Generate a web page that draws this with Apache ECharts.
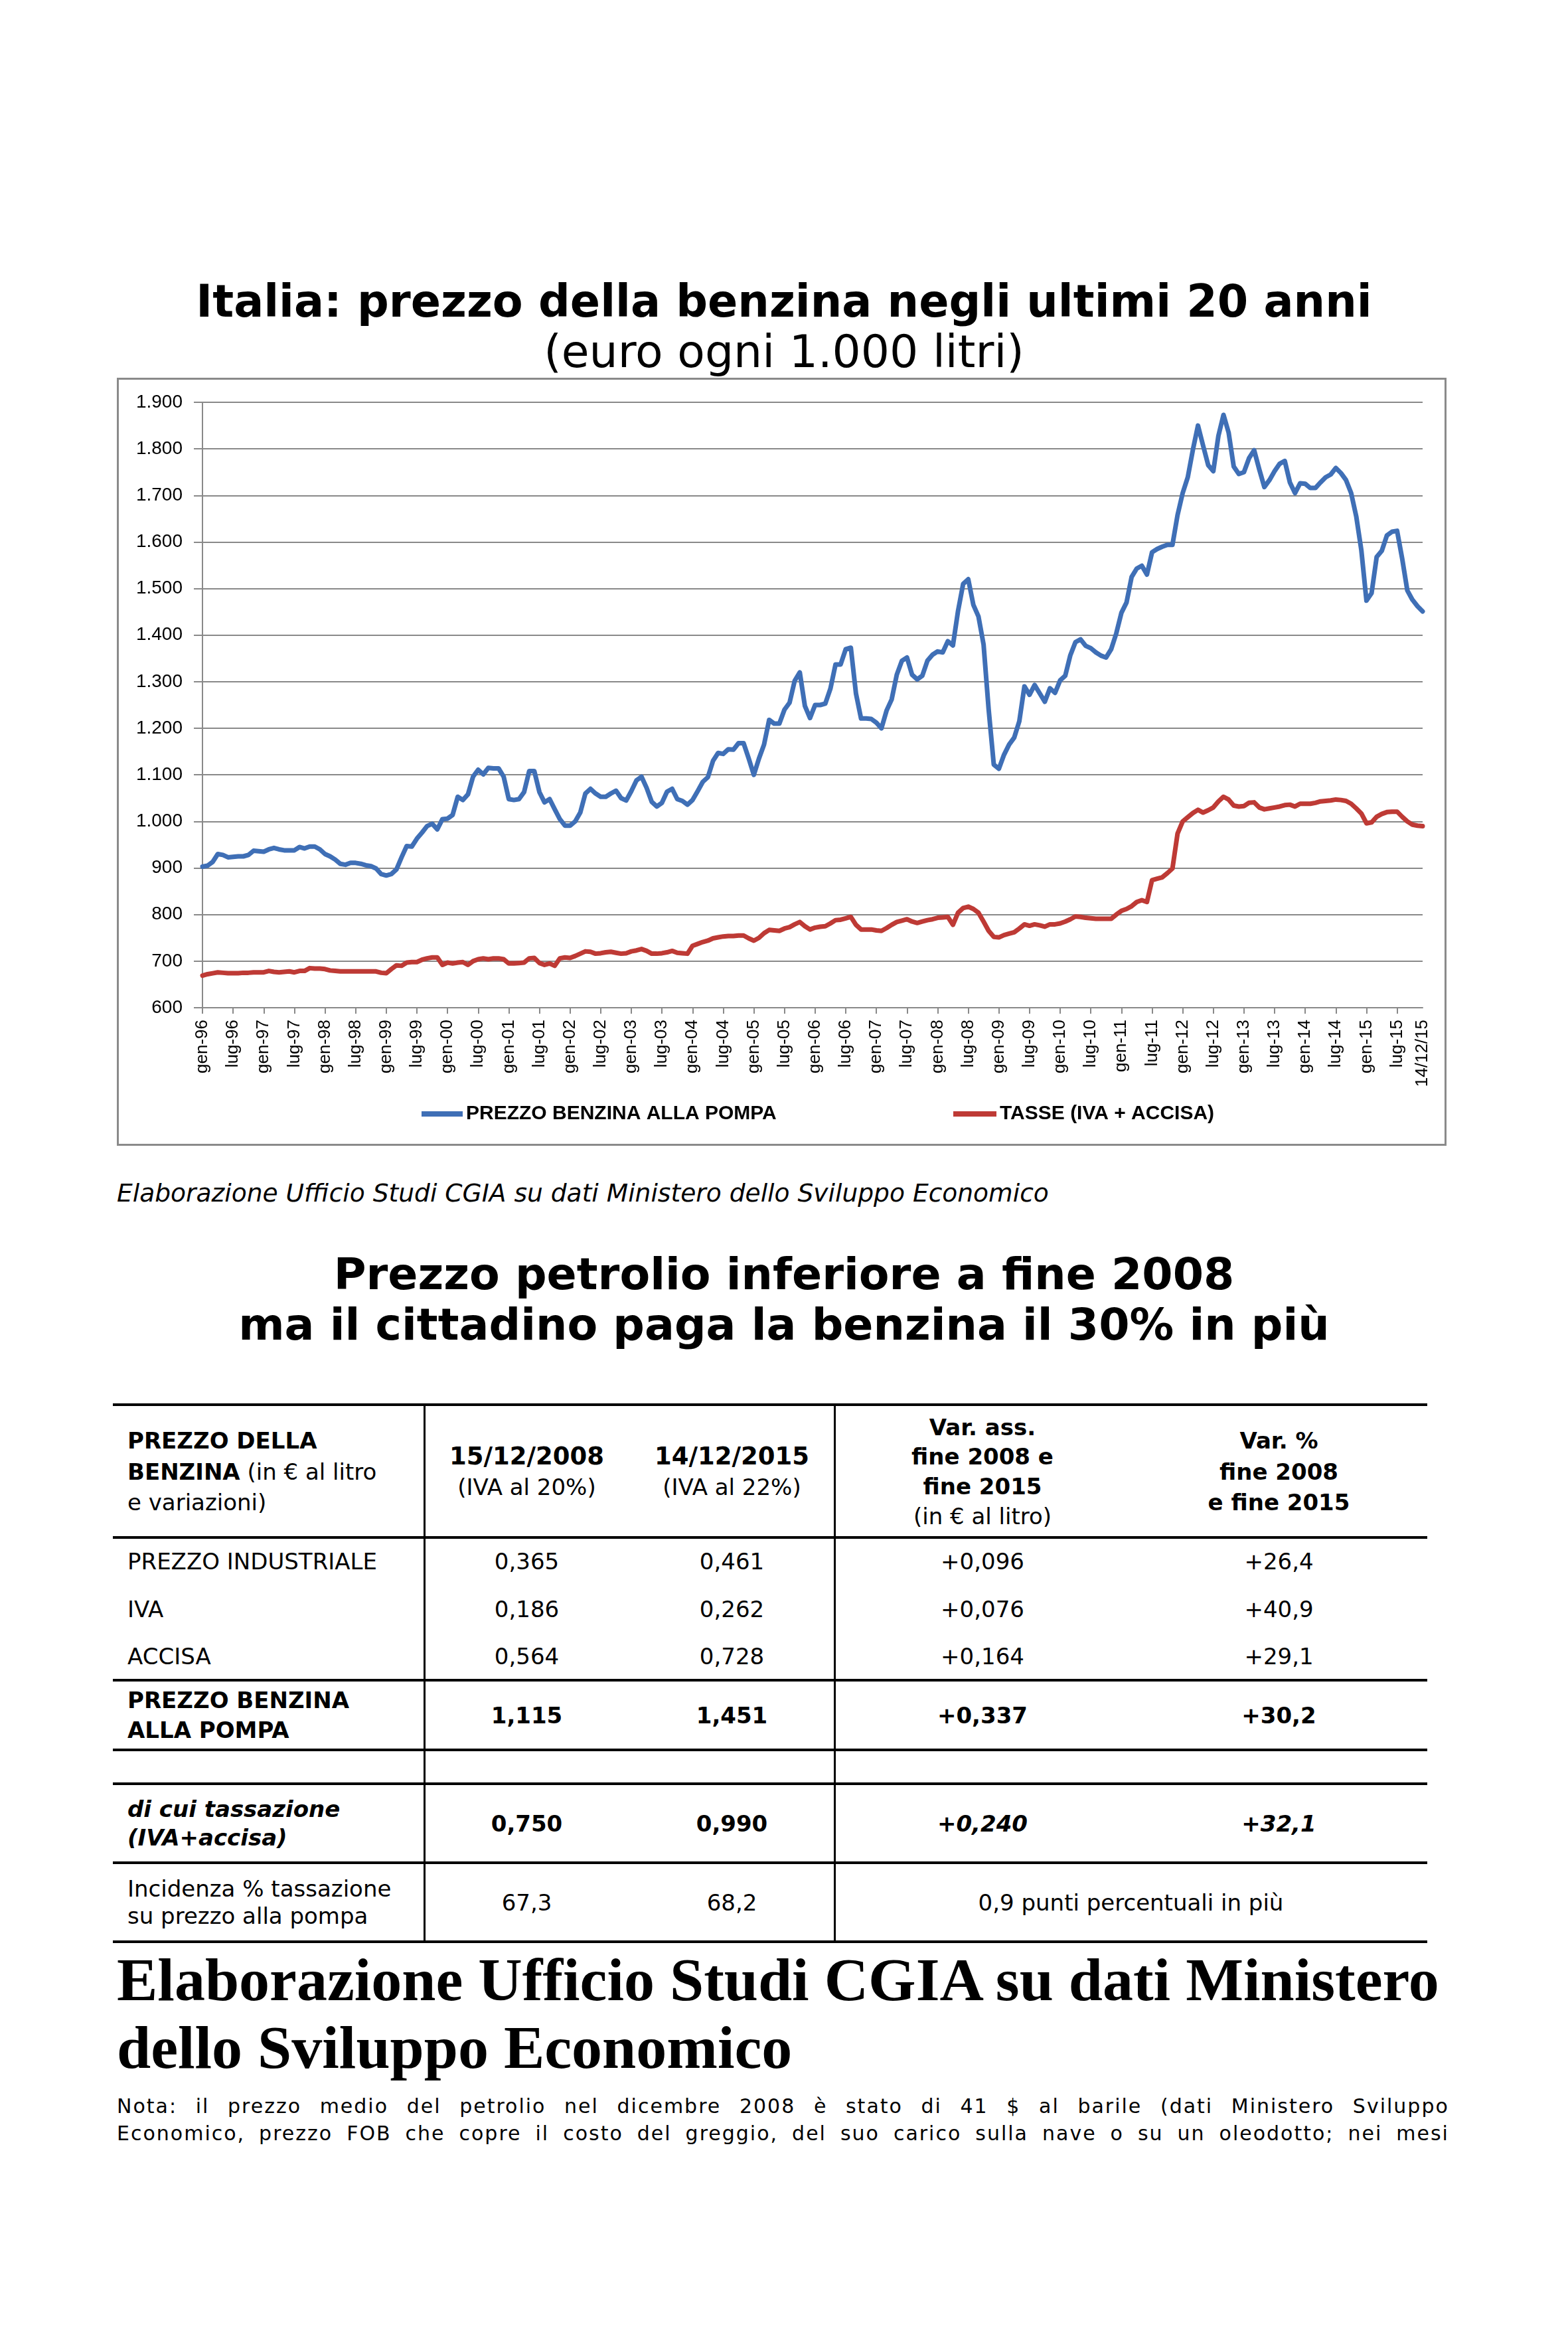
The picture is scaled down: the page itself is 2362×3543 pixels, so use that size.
<!DOCTYPE html>
<html>
<head>
<meta charset="utf-8">
<script src="https://cdn.jsdelivr.net/npm/echarts@6/dist/echarts.min.js"></script>
<style>
    html, body { margin: 0; padding: 0; background: #fff; }
    body {
        width: 2362px; height: 3543px; position: relative; overflow: hidden;
        font-family: 'DejaVu Sans', Verdana, sans-serif; color: #000;
    }
    .abs { position: absolute; }
    #titolo { left: 0; width: 2362px; top: 414px; text-align: center; font-weight: bold; font-size: 66.8px; line-height: 80px; }
    #sottotitolo { left: 0; width: 2362px; top: 490px; text-align: center; font-size: 68px; line-height: 80px; }
    #cornice { left: 176px; top: 569px; width: 2003px; height: 1157px; border: 3px solid #8a8a8a; box-sizing: border-box; }
    #grafico { left: 177px; top: 570px; width: 2001px; height: 1155px; }
    #fonte { left: 176px; top: 1775px; font-style: italic; font-size: 37.6px; line-height: 44px; white-space: nowrap; }
    #titolo2 { left: 0; width: 2362px; top: 1881px; text-align: center; font-weight: bold; font-size: 66.6px; line-height: 76px; }

    /* tabella */
    .hl { position: absolute; left: 170px; width: 1980px; height: 4px; background: #000; }
    .vl { position: absolute; top: 2116px; height: 809px; width: 3px; background: #000; }
    .cell { position: absolute; display: flex; flex-direction: column; justify-content: center; font-size: 34px; line-height: 44px; white-space: nowrap; }
    .c1 { left: 192px; width: 440px; text-align: left; }
    .c2 { left: 639px; width: 309px; text-align: center; }
    .c3 { left: 948px; width: 309px; text-align: center; }
    .c4 { left: 1257px; width: 446px; text-align: center; }
    .c5 { left: 1703px; width: 447px; text-align: center; }
    .c45 { left: 1257px; width: 893px; text-align: center; }

    #grande { left: 176px; top: 2931px; font-family: 'Liberation Serif', 'Times New Roman', serif; font-weight: bold; font-size: 92px; line-height: 102px; white-space: nowrap; }
    .nota { position: absolute; left: 176px; width: 2007px; display: flex; justify-content: space-between; font-size: 30px; letter-spacing: 2px; line-height: 41px; white-space: nowrap; }
</style>
</head>
<body>

<div id="titolo" class="abs">Italia: prezzo della benzina negli ultimi 20 anni</div>
<div id="sottotitolo" class="abs">(euro ogni 1.000 litri)</div>
<div id="cornice" class="abs"></div>
<div id="grafico" class="abs"></div>

<div id="fonte" class="abs">Elaborazione Ufficio Studi CGIA su dati Ministero dello Sviluppo Economico</div>
<div id="titolo2" class="abs">Prezzo petrolio inferiore a fine 2008<br>ma il cittadino paga la benzina il 30% in più</div>

<!-- linee della tabella -->
<div class="hl" style="top:2114px"></div>
<div class="hl" style="top:2314px"></div>
<div class="hl" style="top:2529px"></div>
<div class="hl" style="top:2634px"></div>
<div class="hl" style="top:2685px"></div>
<div class="hl" style="top:2804px"></div>
<div class="hl" style="top:2923px"></div>
<div class="vl" style="left:638px"></div>
<div class="vl" style="left:1256px"></div>

<!-- intestazione -->
<div class="cell c1" style="top:2118px;height:198px;line-height:46.5px"><div><b>PREZZO DELLA</b><br><b>BENZINA</b> (in € al litro<br>e variazioni)</div></div>
<div class="cell c2" style="top:2118px;height:198px;line-height:46px"><div><b style="font-size:37px">15/12/2008</b><br>(IVA al 20%)</div></div>
<div class="cell c3" style="top:2118px;height:198px;line-height:46px"><div><b style="font-size:37px">14/12/2015</b><br>(IVA al 22%)</div></div>
<div class="cell c4" style="top:2118px;height:198px;line-height:44.7px"><div><b>Var. ass.</b><br><b>fine 2008 e</b><br><b>fine 2015</b><br>(in € al litro)</div></div>
<div class="cell c5" style="top:2118px;height:198px;line-height:46.5px"><div><b>Var. %</b><br><b>fine 2008</b><br><b>e fine 2015</b></div></div>

<!-- righe -->
<div class="cell c1" style="top:2316px;height:72px">PREZZO INDUSTRIALE</div>
<div class="cell c2" style="top:2316px;height:72px">0,365</div>
<div class="cell c3" style="top:2316px;height:72px">0,461</div>
<div class="cell c4" style="top:2316px;height:72px">+0,096</div>
<div class="cell c5" style="top:2316px;height:72px">+26,4</div>

<div class="cell c1" style="top:2388px;height:71px">IVA</div>
<div class="cell c2" style="top:2388px;height:71px">0,186</div>
<div class="cell c3" style="top:2388px;height:71px">0,262</div>
<div class="cell c4" style="top:2388px;height:71px">+0,076</div>
<div class="cell c5" style="top:2388px;height:71px">+40,9</div>

<div class="cell c1" style="top:2459px;height:72px">ACCISA</div>
<div class="cell c2" style="top:2459px;height:72px">0,564</div>
<div class="cell c3" style="top:2459px;height:72px">0,728</div>
<div class="cell c4" style="top:2459px;height:72px">+0,164</div>
<div class="cell c5" style="top:2459px;height:72px">+29,1</div>

<div class="cell c1" style="top:2531px;height:105px;font-weight:bold;line-height:45px"><div>PREZZO BENZINA<br>ALLA POMPA</div></div>
<div class="cell c2" style="top:2531px;height:105px;font-weight:bold">1,115</div>
<div class="cell c3" style="top:2531px;height:105px;font-weight:bold">1,451</div>
<div class="cell c4" style="top:2531px;height:105px;font-weight:bold">+0,337</div>
<div class="cell c5" style="top:2531px;height:105px;font-weight:bold">+30,2</div>

<div class="cell c1" style="top:2687px;height:119px;font-weight:bold;font-style:italic;line-height:43px"><div>di cui tassazione<br>(IVA+accisa)</div></div>
<div class="cell c2" style="top:2687px;height:119px;font-weight:bold">0,750</div>
<div class="cell c3" style="top:2687px;height:119px;font-weight:bold">0,990</div>
<div class="cell c4" style="top:2687px;height:119px;font-weight:bold;font-style:italic">+0,240</div>
<div class="cell c5" style="top:2687px;height:119px;font-weight:bold;font-style:italic">+32,1</div>

<div class="cell c1" style="top:2806px;height:119px;line-height:41px"><div>Incidenza % tassazione<br>su prezzo alla pompa</div></div>
<div class="cell c2" style="top:2806px;height:119px">67,3</div>
<div class="cell c3" style="top:2806px;height:119px">68,2</div>
<div class="cell c45" style="top:2806px;height:119px">0,9 punti percentuali in più</div>

<div id="grande" class="abs">Elaborazione Ufficio Studi CGIA su dati Ministero<br>dello Sviluppo Economico</div>

<div class="nota" style="top:3152px" data-testo="Nota: il prezzo medio del petrolio nel dicembre 2008 è stato di 41 $ al barile (dati Ministero Sviluppo"></div>
<div class="nota" style="top:3193px" data-testo="Economico, prezzo FOB che copre il costo del greggio, del suo carico sulla nave o su un oleodotto; nei mesi"></div>

<script>
// Etichette dell'asse: mesi da gen-96 a nov-15, poi l'ultima rilevazione
const MESI = ['gen', 'feb', 'mar', 'apr', 'mag', 'giu', 'lug', 'ago', 'set', 'ott', 'nov', 'dic'];
const ANNI = ['96', '97', '98', '99', '00', '01', '02', '03', '04', '05',
              '06', '07', '08', '09', '10', '11', '12', '13', '14', '15'];
const ULTIMA_DATA = '14/12/15';

// Prezzo benzina alla pompa (euro ogni 1.000 litri), un valore al mese
const prezzoPompa = [
    903, 905, 913, 930, 928, 923, 924, 925, 925, 928,
    937, 936, 935, 940, 943, 940, 938, 938, 938, 945,
    942, 946, 946, 940, 930, 925, 918, 909, 907, 911,
    911, 909, 906, 904, 899, 887, 884, 887, 897, 923,
    947, 946, 963, 976, 990, 995, 983, 1005, 1006, 1014,
    1053, 1046, 1058, 1096, 1111, 1101, 1115, 1114, 1114, 1096,
    1048, 1046, 1048, 1063, 1108, 1108, 1063, 1041, 1048, 1026,
    1005, 991, 991, 1000, 1019, 1060, 1070, 1060, 1053, 1053,
    1060, 1066, 1050, 1045, 1065, 1088, 1096, 1072, 1042, 1032,
    1040, 1064, 1070, 1048, 1044, 1036, 1046, 1065, 1085, 1095,
    1130, 1147, 1145, 1155, 1154, 1168, 1168, 1135, 1100, 1135,
    1165, 1218, 1210, 1210, 1240, 1255, 1302, 1320, 1248, 1222,
    1250, 1250, 1253, 1285, 1337, 1337, 1370, 1373, 1275, 1221,
    1221, 1220, 1212, 1200, 1238, 1262, 1315, 1345, 1352, 1315,
    1305, 1313, 1345, 1358, 1365, 1363, 1387, 1378, 1452, 1510,
    1520, 1465, 1440, 1380, 1240, 1122, 1113, 1143, 1165, 1180,
    1215, 1290, 1272, 1293, 1275, 1257, 1286, 1276, 1303, 1313,
    1357, 1385, 1391, 1377, 1372, 1363, 1356, 1352, 1370, 1404,
    1448, 1470, 1525, 1543, 1549, 1530, 1578, 1585, 1590, 1594,
    1594, 1658, 1705, 1739, 1798, 1850, 1807, 1765, 1752, 1828,
    1873, 1835, 1762, 1746, 1750, 1780, 1797, 1756, 1718, 1733,
    1752, 1768, 1774, 1728, 1705, 1726, 1725, 1716, 1716, 1728,
    1739, 1745, 1759, 1748, 1733, 1705, 1655, 1582, 1474, 1490,
    1568, 1581, 1614, 1622, 1624, 1564, 1496, 1476, 1462, 1451
];

// Tasse (IVA + accisa)
const tasse = [
    669, 672, 674, 676, 675, 674, 674, 674, 675, 675,
    676, 676, 676, 679, 677, 676, 677, 678, 676, 679,
    679, 685, 684, 684, 683, 680, 679, 678, 678, 678,
    678, 678, 678, 678, 678, 675, 674, 683, 691, 690,
    697, 698, 698, 703, 706, 708, 708, 692, 697, 695,
    697, 698, 692, 700, 704, 706, 704, 706, 706, 704,
    695, 695, 696, 697, 706, 707, 696, 692, 695, 690,
    706, 708, 707, 711, 716, 721, 720, 716, 717, 719,
    720, 718, 716, 717, 721, 723, 726, 722, 716, 716,
    717, 719, 722, 718, 717, 716, 733, 737, 741, 744,
    749, 751, 753, 754, 754, 755, 755, 749, 744, 750,
    760, 767, 766, 765, 770, 773, 779, 784, 775, 768,
    772, 774, 775, 781, 788, 789, 792, 795, 778, 768,
    768, 768, 766, 765, 771, 778, 784, 787, 790, 785,
    782, 785, 788, 790, 793, 794, 795, 778, 804, 814,
    817, 812, 804, 785, 765, 752, 751, 756, 759, 762,
    770, 779, 776, 779, 777, 774, 779, 779, 781, 785,
    790, 796, 795, 793, 792, 791, 791, 791, 791, 800,
    808, 812, 818, 827, 831, 827, 874, 877, 880, 889,
    899, 974, 1000, 1009, 1018, 1025, 1019, 1024, 1030, 1043,
    1053, 1047, 1034, 1032, 1033, 1040, 1041, 1030, 1026, 1028,
    1030, 1032, 1035, 1036, 1032, 1038, 1038, 1038, 1040, 1043,
    1044, 1045, 1047, 1046, 1044, 1038, 1028, 1017, 996, 998,
    1010, 1016, 1020, 1021, 1021, 1010, 1000, 993, 991, 990
];

const NOME_PREZZO = 'PREZZO BENZINA ALLA POMPA';
const NOME_TASSE = 'TASSE (IVA + ACCISA)';

const categorie = [];
ANNI.forEach(anno => {
    MESI.forEach(mese => categorie.push(mese + '-' + anno));
});
categorie.length = prezzoPompa.length - 1;
categorie.push(ULTIMA_DATA);

// separatore delle migliaia all'italiana
function formattaMigliaia(v) {
    if (v < 1000) return String(v);
    return Math.floor(v / 1000) + '.' + String(v % 1000).padStart(3, '0');
}

const GRIGIO = '#898989';
const chart = echarts.init(document.getElementById('grafico'));

chart.setOption({
    animation: false,
    textStyle: { fontFamily: "'Liberation Sans', Arial, sans-serif" },
    grid: { left: 128, top: 36, right: 35, bottom: 207 },
    legend: [
        {
            data: [NOME_PREZZO], left: 458, top: 1093, padding: 0,
            icon: 'rect', itemWidth: 62, itemHeight: 8, itemGap: 0,
            textStyle: { fontSize: 30, fontWeight: 'bold', color: '#000' }
        },
        {
            data: [NOME_TASSE], left: 1259, top: 1093, padding: 0,
            icon: 'rect', itemWidth: 65, itemHeight: 8, itemGap: 0,
            textStyle: { fontSize: 30, fontWeight: 'bold', color: '#000' }
        }
    ],
    xAxis: {
        type: 'category',
        data: categorie,
        boundaryGap: false,
        axisLine: { lineStyle: { color: GRIGIO, width: 2 } },
        axisTick: {
            interval: (i) => i % 6 === 0,
            length: 9,
            lineStyle: { color: GRIGIO, width: 2 }
        },
        axisLabel: {
            interval: (i) => i % 6 === 0 || i === categorie.length - 1,
            rotate: 90,
            fontSize: 26,
            color: '#000',
            margin: 18
        },
        splitLine: { show: false }
    },
    yAxis: {
        type: 'value',
        min: 600,
        max: 1900,
        interval: 100,
        axisLine: { show: true, lineStyle: { color: GRIGIO, width: 2 } },
        axisTick: { show: true, length: 13, lineStyle: { color: GRIGIO, width: 2 } },
        axisLabel: { formatter: formattaMigliaia, fontSize: 28, color: '#000', margin: 30 },
        splitLine: { lineStyle: { color: GRIGIO, width: 2 } }
    },
    series: [
        {
            name: NOME_PREZZO,
            type: 'line',
            data: prezzoPompa,
            showSymbol: false,
            symbol: 'none',
            color: '#3F6FB6',
            lineStyle: { width: 7, cap: 'round', join: 'round' },
            emphasis: { disabled: true }
        },
        {
            name: NOME_TASSE,
            type: 'line',
            data: tasse,
            showSymbol: false,
            symbol: 'none',
            color: '#BE3A35',
            lineStyle: { width: 7, cap: 'round', join: 'round' },
            emphasis: { disabled: true }
        }
    ]
});

// nota giustificata: una parola per span, spazi distribuiti
document.querySelectorAll('.nota').forEach(riga => {
    riga.dataset.testo.split(' ').forEach(parola => {
        const s = document.createElement('span');
        s.textContent = parola;
        riga.appendChild(s);
    });
});
</script>
</body>
</html>
